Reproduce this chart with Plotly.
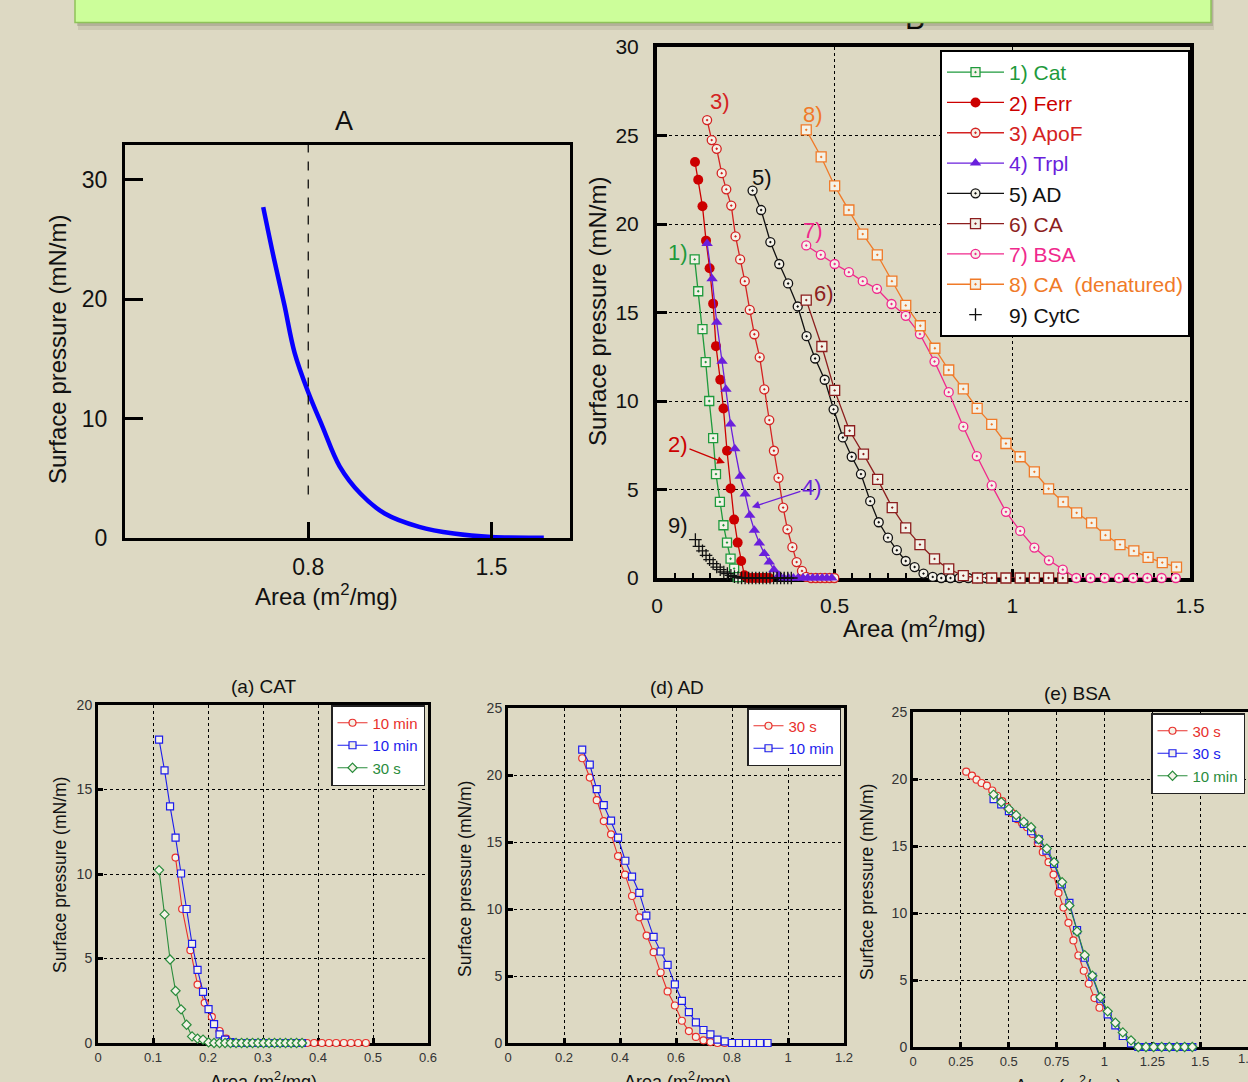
import plotly.graph_objects as go

W, H = 1248, 1082
BG = '#ddd9c3'
SANS = 'Liberation Sans, Arial, sans-serif'


def px(x):
    return x / W


def py(y):
    return 1 - y / H


# ---------------- Panel A ----------------
a_area = [0.628, 0.669, 0.709, 0.748, 0.80, 0.854, 0.92, 1.0, 1.092, 1.224, 1.356, 1.5, 1.7]
a_pi = [27.7, 23.4, 19.5, 15.5, 12.2, 9.35, 6.0, 3.7, 2.05, 0.93, 0.37, 0.08, 0.03]

# ---------------- Panel B ----------------
cat_x = [0.106, 0.116, 0.128, 0.137, 0.147, 0.158, 0.166, 0.177, 0.187, 0.197, 0.207, 0.217, 0.227]
cat_y = [18.0, 16.2, 14.06, 12.2, 10.0, 7.9, 5.87, 4.3, 2.98, 2.0, 1.09, 0.53, 0.05]

ferr_x = [0.107, 0.116, 0.128, 0.138, 0.148, 0.158, 0.166, 0.178, 0.187, 0.197, 0.207, 0.217, 0.227,
          0.237, 0.246, 0.256, 0.266, 0.276, 0.286, 0.296, 0.306, 0.316]
ferr_y = [23.5, 22.5, 21.0, 19.06, 17.5, 15.5, 13.1, 11.2, 9.58, 7.19, 5.06, 3.3, 2.0,
          0.96, 0.15, 0, 0, 0, 0, 0, 0, 0]

apof_x = [0.141, 0.154, 0.168, 0.182, 0.195, 0.209, 0.221, 0.234, 0.247, 0.261, 0.274, 0.289, 0.302,
          0.316, 0.329, 0.342, 0.355, 0.367, 0.381, 0.393, 0.408, 0.420, 0.434, 0.447, 0.460, 0.473,
          0.486, 0.499]
apof_y = [25.87, 24.74, 24.25, 22.87, 21.96, 21.04, 19.3, 18.0, 16.77, 15.15, 13.77, 12.47, 10.66,
          8.92, 7.19, 5.66, 3.98, 2.75, 1.74, 0.9, 0.4, 0.06, 0, 0, 0, 0, 0, 0]

trpl_x = [0.141, 0.155, 0.168, 0.183, 0.194, 0.207, 0.219, 0.234, 0.248, 0.261, 0.274, 0.288, 0.302,
          0.316, 0.329, 0.343, 0.357, 0.370, 0.384, 0.397, 0.411, 0.424, 0.438, 0.451, 0.465, 0.478,
          0.492]
trpl_y = [18.9, 16.9, 14.45, 12.25, 10.66, 8.7, 7.3, 5.75, 4.74, 3.55, 2.7, 1.98, 1.38,
          0.9, 0.47, 0.15, 0, 0, 0, 0, 0, 0, 0, 0, 0, 0, 0]

ad_x = [0.269, 0.293, 0.319, 0.344, 0.369, 0.396, 0.421, 0.445, 0.472, 0.497, 0.523, 0.548, 0.574,
        0.600, 0.624, 0.650, 0.675, 0.700, 0.725, 0.750, 0.776, 0.800, 0.826, 0.851, 0.876, 0.901,
        0.926]
ad_y = [21.89, 20.79, 18.98, 17.74, 16.64, 15.34, 13.66, 12.4, 11.2, 9.53, 7.94, 6.85, 5.87,
        4.34, 3.15, 2.28, 1.57, 0.96, 0.62, 0.25, 0.06, 0, 0, 0, 0, 0, 0]

ca_x = [0.420, 0.464, 0.500, 0.542, 0.581, 0.621, 0.662, 0.700, 0.740, 0.781, 0.821, 0.862, 0.902,
        0.942, 0.982, 1.022, 1.062, 1.102, 1.142]
ca_y = [15.7, 13.08, 10.6, 8.32, 7.0, 5.57, 3.98, 2.83, 1.89, 1.08, 0.51, 0.13, 0,
        0, 0, 0, 0, 0, 0]

bsa_x = [0.420, 0.461, 0.500, 0.540, 0.579, 0.619, 0.660, 0.700, 0.740, 0.781, 0.821, 0.862, 0.900,
         0.942, 0.982, 1.022, 1.062, 1.103, 1.142, 1.180, 1.220, 1.260, 1.300, 1.340, 1.380, 1.420,
         1.460]
bsa_y = [18.79, 18.26, 17.74, 17.28, 16.77, 16.34, 15.48, 14.81, 13.78, 12.23, 10.5, 8.55, 6.89,
         5.23, 3.74, 2.66, 1.72, 1.0, 0.47, 0, 0, 0, 0, 0, 0, 0, 0]

cad_x = [0.420, 0.462, 0.500, 0.540, 0.579, 0.620, 0.661, 0.700, 0.741, 0.782, 0.821, 0.862, 0.901,
         0.942, 0.982, 1.022, 1.062, 1.102, 1.143, 1.181, 1.223, 1.262, 1.303, 1.342, 1.382, 1.422,
         1.462]
cad_y = [25.32, 23.79, 22.15, 20.79, 19.43, 18.26, 16.77, 15.4, 14.25, 12.98, 11.75, 10.68, 9.58,
         8.68, 7.6, 6.85, 6.0, 5.04, 4.3, 3.68, 3.11, 2.42, 1.89, 1.53, 1.17, 0.87, 0.62]

cytc_x = [0.108, 0.118, 0.128, 0.138, 0.148, 0.158, 0.168, 0.178, 0.188, 0.198, 0.208, 0.218, 0.228,
          0.238, 0.248, 0.258, 0.268, 0.278, 0.288, 0.298, 0.308, 0.318, 0.328, 0.338, 0.348, 0.358,
          0.368, 0.378]
cytc_y = [2.17, 1.79, 1.53, 1.28, 1.04, 0.81, 0.62, 0.47, 0.34, 0.25, 0.15, 0.08, 0.03,
          0, 0, 0, 0, 0, 0, 0, 0, 0, 0, 0, 0, 0, 0, 0]

# ---------------- Panel (a) CAT ----------------
acat_red_x = [0.141, 0.153, 0.168, 0.181, 0.194, 0.207, 0.221, 0.233, 0.247, 0.260, 0.273, 0.287,
              0.300, 0.313, 0.327, 0.340, 0.353, 0.367, 0.380, 0.393, 0.407, 0.420, 0.433, 0.447,
              0.460, 0.473, 0.487]
acat_red_y = [10.97, 7.93, 5.49, 3.46, 2.38, 1.55, 0.71, 0.26, 0, 0, 0, 0,
              0, 0, 0, 0, 0, 0, 0, 0, 0, 0, 0, 0, 0, 0, 0]
acat_blue_x = [0.111, 0.121, 0.131, 0.141, 0.151, 0.161, 0.171, 0.181, 0.191, 0.201, 0.211, 0.221,
               0.231, 0.241, 0.251, 0.261, 0.271, 0.281, 0.291, 0.301, 0.311, 0.321, 0.331, 0.341,
               0.351, 0.361, 0.371]
acat_blue_y = [17.95, 16.13, 14.0, 12.15, 10.03, 7.93, 5.86, 4.33, 3.03, 2.0, 1.12, 0.51,
               0.2, 0.05, 0, 0, 0, 0, 0, 0, 0, 0, 0, 0, 0, 0, 0]
acat_green_x = [0.111, 0.121, 0.131, 0.141, 0.151, 0.161, 0.171, 0.181, 0.191, 0.201, 0.211, 0.221,
                0.231, 0.241, 0.251, 0.261, 0.271, 0.281, 0.291, 0.301, 0.311, 0.321, 0.331, 0.341,
                0.351, 0.361, 0.371]
acat_green_y = [10.23, 7.61, 4.94, 3.09, 1.99, 1.08, 0.39, 0.26, 0.2, 0.04, 0, 0,
                0, 0, 0, 0, 0, 0, 0, 0, 0, 0, 0, 0, 0, 0, 0]

# ---------------- Panel (d) AD ----------------
dad_red_x = [0.265, 0.292, 0.317, 0.342, 0.368, 0.393, 0.418, 0.443, 0.469, 0.495, 0.520, 0.545,
             0.570, 0.596, 0.621, 0.646, 0.671, 0.698, 0.723, 0.748, 0.774]
dad_red_y = [21.25, 19.81, 18.12, 16.56, 15.57, 13.95, 12.56, 10.97, 9.38, 8.02, 6.78, 5.26,
             3.85, 2.8, 1.66, 0.89, 0.45, 0.2, 0.07, 0, 0]
dad_blue_x = [0.265, 0.292, 0.317, 0.342, 0.368, 0.393, 0.419, 0.443, 0.469, 0.494, 0.520, 0.545,
              0.570, 0.596, 0.621, 0.646, 0.671, 0.698, 0.723, 0.748, 0.774, 0.800, 0.825, 0.850,
              0.875, 0.900, 0.927]
dad_blue_y = [21.9, 20.78, 18.94, 17.75, 16.6, 15.32, 13.6, 12.41, 11.2, 9.51, 7.92, 6.83,
              5.83, 4.37, 3.15, 2.31, 1.54, 0.97, 0.65, 0.25, 0.12, 0, 0, 0,
              0, 0, 0]

# ---------------- Panel (e) BSA ----------------
ebsa_red_x = [0.278, 0.308, 0.332, 0.358, 0.386, 0.414, 0.440, 0.466, 0.492, 0.518, 0.544, 0.570,
              0.596, 0.624, 0.652, 0.678, 0.708, 0.734, 0.760, 0.786, 0.812, 0.838, 0.864, 0.892,
              0.918, 0.948, 0.974]
ebsa_red_y = [20.55, 20.25, 19.95, 19.7, 19.5, 19.14, 18.75, 18.35, 17.9, 17.45, 17.0, 16.7,
              16.4, 15.9, 15.23, 14.54, 13.79, 12.87, 11.5, 10.41, 9.27, 7.95, 6.83, 5.69,
              4.72, 3.65, 2.93]
ebsa_blue_x = [0.421, 0.461, 0.501, 0.539, 0.579, 0.617, 0.657, 0.697, 0.737, 0.777, 0.817, 0.857,
               0.897, 0.937, 0.979, 1.017, 1.057, 1.096, 1.139, 1.177, 1.217, 1.257, 1.299, 1.339,
               1.379, 1.419, 1.459]
ebsa_blue_y = [18.5, 18.1, 17.6, 17.1, 16.65, 16.1, 15.5, 14.66, 13.67, 12.13, 10.76, 8.72,
               6.66, 5.24, 3.6, 2.44, 1.62, 0.82, 0.27, 0, 0, 0, 0, 0,
               0, 0, 0]
ebsa_green_x = [0.421, 0.461, 0.501, 0.539, 0.579, 0.617, 0.657, 0.699, 0.737, 0.779, 0.817, 0.857,
                0.897, 0.937, 0.979, 1.017, 1.057, 1.096, 1.139, 1.177, 1.217, 1.257, 1.299, 1.339,
                1.379, 1.419, 1.459]
ebsa_green_y = [18.84, 18.27, 17.77, 17.3, 16.8, 16.4, 15.5, 14.81, 13.79, 12.3, 10.56, 8.62,
                6.86, 5.32, 3.73, 2.66, 1.81, 1.09, 0.5, 0, 0, 0, 0, 0,
                0, 0, 0]

fig = go.Figure()

# Panel A curve
fig.add_trace(go.Scatter(x=a_area, y=a_pi, mode='lines', line=dict(color='#0800ff', width=4.5, shape='spline', smoothing=1.0),
                         xaxis='x', yaxis='y', showlegend=False))


def sp(text, color):
    return '<span style="color:%s">%s</span>' % (color, text)


C_CAT = '#1e9a3c'
C_FERR = '#cc0000'
C_APOF = '#d42222'
C_TRPL = '#6a1fdc'
C_AD = '#111111'
C_CA = '#8c1e1e'
C_BSA = '#f0288c'
C_CAD = '#f07a28'
FILL = '#f4f2e8'

b_series = [
    ('1) Cat', cat_x, cat_y, C_CAT, dict(symbol='square-dot', size=9, color=FILL, line=dict(color=C_CAT, width=1.3))),
    ('2) Ferr', ferr_x, ferr_y, C_FERR, dict(symbol='circle', size=10, color=C_FERR, line=dict(color=C_FERR, width=0))),
    ('3) ApoF', apof_x, apof_y, C_APOF, dict(symbol='circle-dot', size=9, color=FILL, line=dict(color=C_APOF, width=1.3))),
    ('4) Trpl', trpl_x, trpl_y, C_TRPL, dict(symbol='triangle-up', size=10, color=C_TRPL, line=dict(color=C_TRPL, width=0))),
    ('5) AD', ad_x, ad_y, C_AD, dict(symbol='circle-dot', size=9, color=FILL, line=dict(color=C_AD, width=1.3))),
    ('6) CA', ca_x, ca_y, C_CA, dict(symbol='square-dot', size=10, color=FILL, line=dict(color=C_CA, width=1.3))),
    ('7) BSA', bsa_x, bsa_y, C_BSA, dict(symbol='circle-dot', size=9, color=FILL, line=dict(color=C_BSA, width=1.3))),
    ('8) CA&nbsp;&nbsp;(denatured)', cad_x, cad_y, C_CAD, dict(symbol='square-dot', size=10, color=FILL, line=dict(color=C_CAD, width=1.3))),
]
for name, xs, ys, col, mk in b_series:
    fig.add_trace(go.Scatter(x=xs, y=ys, mode='lines+markers', name=sp(name, col),
                             line=dict(color=col, width=1.3), marker=mk, cliponaxis=False,
                             xaxis='x2', yaxis='y2', legend='legend'))
fig.add_trace(go.Scatter(x=cytc_x, y=cytc_y, mode='markers', name=sp('9) CytC', '#111111'),
                         marker=dict(symbol='cross-thin', size=9, line=dict(color='#111111', width=1.3)),
                         cliponaxis=False, xaxis='x2', yaxis='y2', legend='legend'))

# "B" title, on its own hidden axes; mostly covered by the green banner
fig.add_trace(go.Scatter(x=[0.484], y=[0.52], mode='text', text=['B'], textfont=dict(size=30, family=SANS, color='black'),
                         cliponaxis=False, xaxis='x6', yaxis='y6', showlegend=False, hoverinfo='skip'))

RED = '#e8302c'
BLUE = '#1c1cec'
GREEN = '#2a8c3c'


def small_trace(xs, ys, name, col, sym, ax, ay, leg):
    return go.Scatter(x=xs, y=ys, mode='lines+markers', name=sp(name, col),
                      line=dict(color=col, width=1.1),
                      marker=dict(symbol=sym, size=7, color=FILL, line=dict(color=col, width=1.2)),
                      cliponaxis=False, xaxis=ax, yaxis=ay, legend=leg)


fig.add_trace(small_trace(acat_red_x, acat_red_y, '10 min', RED, 'circle', 'x3', 'y3', 'legend2'))
fig.add_trace(small_trace(acat_blue_x, acat_blue_y, '10 min', BLUE, 'square', 'x3', 'y3', 'legend2'))
fig.add_trace(small_trace(acat_green_x, acat_green_y, '30 s', GREEN, 'diamond', 'x3', 'y3', 'legend2'))

fig.add_trace(small_trace(dad_red_x, dad_red_y, '30 s', RED, 'circle', 'x4', 'y4', 'legend3'))
fig.add_trace(small_trace(dad_blue_x, dad_blue_y, '10 min', BLUE, 'square', 'x4', 'y4', 'legend3'))

fig.add_trace(small_trace(ebsa_red_x, ebsa_red_y, '30 s', RED, 'circle', 'x5', 'y5', 'legend4'))
fig.add_trace(small_trace(ebsa_blue_x, ebsa_blue_y, '30 s', BLUE, 'square', 'x5', 'y5', 'legend4'))
fig.add_trace(small_trace(ebsa_green_x, ebsa_green_y, '10 min', GREEN, 'diamond', 'x5', 'y5', 'legend4'))


def axis(domain, rng, anchor, lw, **kw):
    d = dict(domain=domain, range=rng, anchor=anchor, showline=True, linecolor='black', linewidth=lw,
             mirror=True, zeroline=False, ticks='inside', tickcolor='black', fixedrange=True,
             automargin=False)
    d.update(kw)
    return d


gridkw = dict(showgrid=True, gridcolor='black', gridwidth=1, griddash='dot')
hidden = dict(visible=False, showgrid=False, zeroline=False, fixedrange=True, automargin=False)

layout = dict(
    template='none',
    width=W, height=H, autosize=False, margin=dict(l=0, r=0, t=0, b=0, pad=0),
    paper_bgcolor=BG, plot_bgcolor=BG, showlegend=True,
    # Panel A
    xaxis=axis([px(125), px(570)], [0.1, 1.8], 'y', 3, tickvals=[0.8, 1.5], ticktext=['0.8', '1.5'],
               ticklen=16, tickwidth=3, showgrid=False, tickfont=dict(family=SANS, size=23, color='#111'),
               ticklabelstandoff=6),
    yaxis=axis([py(538), py(145)], [0, 32.9], 'x', 3, tickvals=[0, 10, 20, 30],
               ticklen=18, tickwidth=3, showgrid=False, tickfont=dict(family=SANS, size=23, color='#111'),
               ticklabelstandoff=10),
    # Panel B
    xaxis2=axis([px(657), px(1190)], [0, 1.5], 'y2', 4, tickvals=[0, 0.5, 1, 1.5], ticktext=['0', '0.5', '1', '1.5'],
                ticklen=9, tickwidth=3, tickfont=dict(family=SANS, size=21, color='#111'),
                minor=dict(dtick=0.05, ticklen=5, tickwidth=2, ticks='inside', tickcolor='black', showgrid=False),
                layer='below traces', ticklabelstandoff=6, **gridkw),
    yaxis2=axis([py(578), py(47)], [0, 30], 'x2', 4, dtick=5, ticklen=10, tickwidth=3,
                tickfont=dict(family=SANS, size=21, color='#111'), layer='below traces',
                ticklabelstandoff=10, **gridkw),
    # Panel (a)
    xaxis3=axis([px(98), px(428)], [0, 0.6], 'y3', 3, dtick=0.1, ticklen=5, tickwidth=3,
                tickfont=dict(family=SANS, size=13, color='#333'), layer='below traces', **gridkw),
    yaxis3=axis([py(1043), py(705)], [0, 20], 'x3', 3, dtick=5, ticklen=5, tickwidth=3,
                tickfont=dict(family=SANS, size=14, color='#333'), layer='below traces', **gridkw),
    # Panel (d)
    xaxis4=axis([px(508), px(844)], [0, 1.2], 'y4', 3, dtick=0.2, ticklen=5, tickwidth=3,
                tickfont=dict(family=SANS, size=13, color='#333'), layer='below traces', **gridkw),
    yaxis4=axis([py(1043), py(708)], [0, 25], 'x4', 3, dtick=5, ticklen=5, tickwidth=3,
                tickfont=dict(family=SANS, size=14, color='#333'), layer='below traces', **gridkw),
    # Panel (e)
    xaxis5=axis([px(913), 1.0], [0, 1.75], 'y5', 3, dtick=0.25, ticklen=5, tickwidth=3,
                tickfont=dict(family=SANS, size=13, color='#333'), layer='below traces', **gridkw),
    yaxis5=axis([py(1047), py(712)], [0, 25], 'x5', 3, dtick=5, ticklen=5, tickwidth=3,
                tickfont=dict(family=SANS, size=14, color='#333'), layer='below traces', **gridkw),
    # hidden helper axes for the "B" heading
    xaxis6=dict(domain=[px(657), px(1190)], range=[0, 1], anchor='y6', **hidden),
    yaxis6=dict(domain=[py(44), 1.0], range=[0, 1], anchor='x6', **hidden),
    legend=dict(x=px(940), y=py(50), xanchor='left', yanchor='top', bgcolor='white', bordercolor='black',
                borderwidth=2, font=dict(family=SANS, size=21), itemwidth=57, traceorder='normal'),
    legend2=dict(x=px(331), y=py(705), xanchor='left', yanchor='top', bgcolor='white', bordercolor='#222',
                 borderwidth=1.5, font=dict(family=SANS, size=15), itemwidth=30, traceorder='normal'),
    legend3=dict(x=px(747), y=py(708), xanchor='left', yanchor='top', bgcolor='white', bordercolor='#222',
                 borderwidth=1.5, font=dict(family=SANS, size=15), itemwidth=30, traceorder='normal'),
    legend4=dict(x=px(1151), y=py(713), xanchor='left', yanchor='top', bgcolor='white', bordercolor='#222',
                 borderwidth=1.5, font=dict(family=SANS, size=15), itemwidth=30, traceorder='normal'),
)
fig.update_layout(**layout)

ann = []


def ptext(x, y, text, size, family=SANS, angle=0, color='#111'):
    ann.append(dict(x=px(x), y=py(y), xref='paper', yref='paper', text=text, showarrow=False,
                    textangle=angle, font=dict(size=size, family=family, color=color),
                    xanchor='center', yanchor='middle'))


AREA = 'Area (m<sup>2</sup>/mg)'
SP = 'Surface pressure (mN/m)'
ptext(344, 121, 'A', 27)
ptext(57, 350, SP, 24, angle=-90)
ptext(326, 595, AREA, 24)
ptext(597, 312, SP, 24, angle=-90)
ptext(915, 627, AREA, 24)
ptext(263, 686, '(a) CAT', 19)
ptext(677, 687, '(d) AD', 19)
ptext(1077, 693, '(e) BSA', 19)
ptext(60, 875, SP, 17.5, angle=-90)
ptext(465, 879, SP, 17.5, angle=-90)
ptext(867, 882, SP, 17.5, angle=-90)
ptext(263, 1080, AREA, 18)
ptext(677, 1080, AREA, 18)
ptext(1068, 1084, AREA, 18)
ptext(1243, 1058, '1.', 13, color='#333')

# curve labels in panel B (data coordinates)
labels_b = [('1)', 0.059, 18.4, C_CAT), ('3)', 0.177, 26.9, C_APOF), ('5)', 0.296, 22.65, C_AD),
            ('6)', 0.47, 16.1, C_CA), ('7)', 0.439, 19.66, C_BSA), ('8)', 0.439, 26.2, C_CAD),
            ('9)', 0.059, 2.94, C_AD)]
for t, x, y, c in labels_b:
    ann.append(dict(x=x, y=y, xref='x2', yref='y2', text=t, showarrow=False,
                    font=dict(size=22, family=SANS, color=c)))
ann.append(dict(x=0.191, y=6.5, ax=0.059, ay=7.55, xref='x2', yref='y2', axref='x2', ayref='y2', text='2)',
                showarrow=True, arrowhead=2, arrowsize=1.2, arrowwidth=1.3, arrowcolor=C_FERR,
                font=dict(size=22, family=SANS, color=C_FERR)))
ann.append(dict(x=0.267, y=4.0, ax=0.436, ay=5.1, xref='x2', yref='y2', axref='x2', ayref='y2', text='4)',
                showarrow=True, arrowhead=2, arrowsize=1.2, arrowwidth=1.3, arrowcolor=C_TRPL,
                font=dict(size=22, family=SANS, color=C_TRPL)))
fig.update_layout(annotations=ann)

shapes = [
    # dashed guide at 0.8 in panel A
    dict(type='line', xref='x', yref='y', x0=0.8, x1=0.8, y0=3.65, y1=32.9,
         line=dict(color='black', width=1.2, dash='dash'), layer='above'),
    # banner shadow
    dict(type='rect', xref='paper', yref='paper', x0=px(78), x1=px(1214), y0=py(30), y1=py(0),
         fillcolor='rgba(80,80,60,0.12)', line=dict(width=0), layer='above'),
    dict(type='rect', xref='paper', yref='paper', x0=px(77), x1=px(1213), y0=py(26), y1=py(0),
         fillcolor='rgba(80,80,60,0.2)', line=dict(width=0), layer='above'),
    # green banner
    dict(type='rect', xref='paper', yref='paper', x0=px(75), x1=px(1211), y0=py(22.5), y1=py(-5),
         fillcolor='#ccfe9a', line=dict(color='#8ec25a', width=1.5), layer='above'),
]
fig.update_layout(shapes=shapes)

fig.write_html('out.html', config={'displayModeBar': False},
               post_script="document.body.style.margin='0';document.body.style.overflow='hidden';")
